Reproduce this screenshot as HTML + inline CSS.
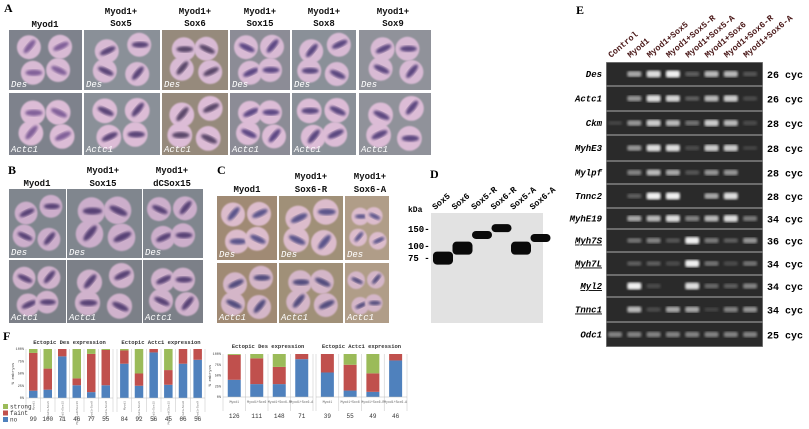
<!DOCTYPE html>
<html><head><meta charset="utf-8">
<style>
body{margin:0;background:#fff;}
svg{display:block;font-family:"Liberation Mono",monospace;}
.lt{font-family:"Liberation Serif",serif;font-weight:bold;font-size:12px;}
.hd{font-weight:bold;font-size:9px;fill:#111;}
</style></head>
<body>
<svg id="fig" width="809" height="429" viewBox="0 0 809 429">
<defs>
<filter id="blur1"><feGaussianBlur stdDeviation="0.9"/></filter>
<filter id="blur2"><feGaussianBlur stdDeviation="1.2"/></filter>
</defs>
<g id="photos"></g>
<g id="gel"></g>
<g id="blot"></g>
<g id="charts"></g>
<text class="lt" x="4" y="12">A</text>
<text class="lt" x="8" y="174">B</text>
<text class="lt" x="217" y="174">C</text>
<text class="lt" x="430" y="178">D</text>
<text class="lt" x="576" y="14">E</text>
<text class="lt" x="3" y="340">F</text>
</svg>
<script>
const NS="http://www.w3.org/2000/svg";
function mk(parent,tag,attrs,txt){const e=document.createElementNS(NS,tag);for(const k in attrs)e.setAttribute(k,attrs[k]);if(txt!==undefined)e.textContent=txt;parent.appendChild(e);return e;}

// ---------- Photos ----------
const P=document.getElementById('photos');
function photo(x,y,w,h,bg,emb,stripe,label,seed){
  const g=mk(P,'g',{});
  
  
  mk(g,'rect',{x:x,y:y,width:w,height:h,fill:bg});
  const r=Math.min(w,h)*0.2;
  const pos=[[0.3,0.32],[0.7,0.28],[0.3,0.68],[0.7,0.7]];
  pos.forEach((p,i)=>{
    const cx=x+w*p[0]+((seed+i)%3-1)*2, cy=y+h*p[1]+((seed*2+i)%3-1)*2;
    mk(g,'circle',{cx:cx,cy:cy,r:r,fill:emb,filter:'url(#blur1)'});
    const ang=-50+((seed+i)%4)*25;
    mk(g,'ellipse',{cx:cx+1,cy:cy,rx:r*0.7,ry:r*0.25,fill:stripe,opacity:0.8,transform:`rotate(${ang} ${cx} ${cy})`,filter:'url(#blur2)'});
  });
  mk(g,'text',{x:x+2,y:y+h-3,fill:'#fff','font-style':'italic','font-size':'9px'},label);
}
const colA=[[9,73],[84,76],[162,66],[230,60],[292,64],[359,72]];
const bgA=['#7e828c','#8a9098','#968a7c','#8c8c96','#8a9098','#90929a'];
const stA=['#6a4a8a','#3a2560','#3a2a50','#3c2a70','#3a2a6a','#3c2a6a'];
colA.forEach((c,i)=>{photo(c[0],30,c[1],60,bgA[i],'#d8bad4',stA[i],'Des',i);photo(c[0],93,c[1],62,bgA[i],'#dcbcd6',stA[i],'Actc1',i+2);});
const colB=[[9,57],[67,75],[143,60]];
colB.forEach((c,i)=>{photo(c[0],189,c[1],69,'#80868e','#ccaecb','#3a2860','Des',i+1);photo(c[0],260,c[1],63,'#7c8088','#d0b2cc','#3a2860','Actc1',i+3);});
const colC=[[217,60],[279,64],[345,44]];
const bgC=['#a08a74','#a09078','#b09d88'];
colC.forEach((c,i)=>{photo(c[0],196,c[1],64,bgC[i],'#dcbccc','#3a3a7a','Des',i);photo(c[0],263,c[1],60,bgC[i],'#d4b6c8','#32306a','Actc1',i+1);});
const hdr=[[45,27,'Myod1'],[121,14,'Myod1+'],[121,26,'Sox5'],[195,14,'Myod1+'],[195,26,'Sox6'],[260,14,'Myod1+'],[260,26,'Sox15'],[324,14,'Myod1+'],[324,26,'Sox8'],[393,14,'Myod1+'],[393,26,'Sox9'],
 [37,186,'Myod1'],[103,173,'Myod1+'],[103,186,'Sox15'],[172,173,'Myod1+'],[172,186,'dCSox15'],
 [247,192,'Myod1'],[311,179,'Myod1+'],[311,192,'Sox6-R'],[370,179,'Myod1+'],[370,192,'Sox6-A']];
hdr.forEach(h=>{const t=mk(P,'text',{x:h[0],y:h[1],'text-anchor':'middle',class:'hd'},h[2]);

});

// ---------- Western blot ----------
const B=document.getElementById('blot');
mk(B,'rect',{x:431,y:213,width:112,height:110,fill:'#e2e2e2'});
const blotLanes=['Sox5','Sox6','Sox5-R','Sox6-R','Sox5-A','Sox6-A'];
const blotKDa=[75,95,130,153,95,121];
const kdaTicks=[150,100,75];
function kY(k){return 246-Math.log(k/100)*42;}
blotLanes.forEach((l,i)=>{
  const cx=443+i*19.5;
  const big=(i<2||i==4);
  const h=big?13:8;
  const b=mk(B,'rect',{x:cx-10,y:kY(blotKDa[i])-h/2,width:20,height:h,rx:4,fill:'#0a0a0a'});
  
  
  const t=mk(B,'text',{x:cx-8,y:210,'font-size':'8.5px','font-weight':'bold',transform:`rotate(-40 ${cx-8} 210)`},l);
  
  
});
mk(B,'text',{x:408,y:212,'font-size':'8px','font-weight':'bold'},'kDa');
kdaTicks.forEach(k=>{const t=mk(B,'text',{x:408,y:kY(k)+3,'font-size':'9px','font-weight':'bold'},(k===75?'75 -':k+'-'));

});

// ---------- Gel ----------
const G=document.getElementById('gel');
const gelLanes=['Control','Myod1','Myod1+Sox5','Myod1+Sox5-R','Myod1+Sox5-A','Myod1+Sox6','Myod1+Sox6-R','Myod1+Sox6-A'];
const gelGenes=['Des','Actc1','Ckm','MyhE3','Mylpf','Tnnc2','MyhE19','Myh7S','Myh7L','Myl2','Tnnc1','Odc1'];
const gelCycles=[26,26,28,28,28,28,34,36,34,34,34,25];
const gelUnder=[false,false,false,false,false,false,false,true,true,true,true,false];
const gelI=[
 [0,.6,.9,1,.2,.7,.7,.15],
 [0,.5,.9,.85,.2,.7,.8,.1],
 [.05,.5,.8,.7,.3,.8,.7,.1],
 [0,.5,.9,.9,.1,.8,.8,.05],
 [0,.4,.7,.6,.15,.5,.5,0],
 [0,.2,1,1,0,.6,.9,0],
 [0,.6,.7,.9,.4,.7,.9,.35],
 [0,.3,.4,.15,1,.35,.2,.5],
 [0,.2,.2,.1,1,.3,.1,.3],
 [0,1,.1,0,.9,.25,.2,.4],
 [0,.7,.1,.6,.6,.05,.4,.5],
 [.4,.4,.4,.4,.4,.4,.4,.4]];
const rowB=[62,86,111,135,161,184,208,229,252,275,297,322,347];
const gx0=606,gx1=763;
const laneX=i=>615+i*19.3;
mk(G,'rect',{x:gx0,y:rowB[0],width:gx1-gx0,height:rowB[12]-rowB[0],fill:'#8a8a8a'});
gelGenes.forEach((gname,r)=>{
  const y0=rowB[r]+0.7,y1=rowB[r+1]-0.7,cy=(y0+y1)/2;
  mk(G,'rect',{x:gx0+0.7,y:y0,width:gx1-gx0-1.4,height:y1-y0,fill:'#2a2a2a'});
  gelI[r].forEach((v,i)=>{
    if(v<=0)return;
    const br=Math.round(60+180*v);
    const b=mk(G,'rect',{x:laneX(i)-7,y:cy-2-v*1.5,width:14,height:4+v*3,rx:2,fill:`rgb(${br},${br},${br})`,filter:'url(#blur2)'});
    
    
  });
  const t=mk(G,'text',{x:602,y:cy+3,'text-anchor':'end','font-size':'9px','font-weight':'bold','font-style':'italic','text-decoration':gelUnder[r]?'underline':'none'},gname);
  
  
  const c=mk(G,'text',{x:767,y:cy+4,'font-size':'10px','font-weight':'bold'},gelCycles[r]+' cyc');
  
  
});
gelLanes.forEach((l,i)=>{
  const x=laneX(i)-4,y=58;
  const t=mk(G,'text',{x:x,y:y,'font-size':'8.5px','font-weight':'bold',fill:'#4a1818',transform:`rotate(-40 ${x} ${y})`},l);
  
  
});

// ---------- Charts ----------
const C=document.getElementById('charts');
const colNo='#4f81bd',colFaint='#c0504d',colStrong='#9bbb59';
const c1Cats=['Myod1','Myod1+Sox5','Myod1+Sox15','Myod1+dCSox15','Myod1+Sox8','Myod1+Sox9'];
const c1No=[15,17,85,26,12,26];
const c1Faint=[77,43,15,14,78,72];
const c1N=[99,100,71,46,77,55];
const c2No=[70,25,93,27,70,78];
const c2Faint=[27,25,7,30,30,22];
const c2N=[84,92,56,45,66,56];
const c3Cats=['Myod1','Myod1+Sox6','Myod1+Sox6-R','Myod1+Sox6-A'];
const c3No=[40,30,30,88];
const c3Faint=[58,60,40,12];
const c3N=[126,111,148,71];
const c4No=[57,15,12,85];
const c4Faint=[43,60,43,15];
const c4N=[39,55,49,46];
const yTicks=[0,25,50,75,100];

function chart(x0,x1,top,bot,cats,no,faint,ns,title,barW,axis,titleY,rotCats,countY){
  const n=cats.length,step=(x1-x0)/n;
  const yS=v=>bot-(v/100)*(bot-top);
  const g=mk(C,'g',{});
  
  
  const tt=mk(g,'text',{x:(x0+x1)/2,y:titleY,'text-anchor':'middle','font-size':'5.5px','font-weight':'bold',fill:'#333'},title);
  
  
  if(axis){
    yTicks.forEach(t=>{const l=mk(g,'text',{x:x0-2,y:yS(t)+1.2,'text-anchor':'end','font-size':'3.5px',fill:'#444'},t+'%');
    
    });
    mk(g,'text',{x:x0-12,y:(top+bot)/2,'text-anchor':'middle','font-size':'4px',fill:'#444',transform:`rotate(-90 ${x0-12} ${(top+bot)/2})`},'% embryos');
  }
  mk(g,'line',{x1:x0,y1:top,x2:x0,y2:bot+14,stroke:'#ccc','stroke-width':0.6});
  for(let i=0;i<n;i++){
    const cx=x0+step*(i+0.5);
    mk(g,'line',{x1:x0+step*(i+1),y1:top,x2:x0+step*(i+1),y2:bot+14,stroke:'#ccc','stroke-width':0.6});
    const b1=mk(g,'rect',{x:cx-barW/2,y:yS(no[i]),width:barW,height:yS(0)-yS(no[i]),fill:colNo});
    
    
    const b2=mk(g,'rect',{x:cx-barW/2,y:yS(no[i]+faint[i]),width:barW,height:yS(no[i])-yS(no[i]+faint[i]),fill:colFaint});
    
    
    const b3=mk(g,'rect',{x:cx-barW/2,y:yS(100),width:barW,height:yS(no[i]+faint[i])-yS(100),fill:colStrong});
    
    
    let cl;
    if(rotCats) cl=mk(g,'text',{x:cx+1,y:bot+3,'font-size':'3px',fill:'#666',transform:`rotate(-90 ${cx+1} ${bot+3})`,'text-anchor':'end'},cats[i]);
    else cl=mk(g,'text',{x:cx,y:bot+6,'font-size':'3.2px',fill:'#666','text-anchor':'middle'},cats[i]);
    
    
    const nl=mk(g,'text',{x:cx,y:countY,'text-anchor':'middle','font-size':'6px',fill:'#333'},ns[i]);
    
    
  }
  mk(g,'line',{x1:x0,y1:bot,x2:x1,y2:bot,stroke:'#bbb','stroke-width':0.6});
}
chart(26,113,349,398,c1Cats,c1No,c1Faint,c1N,'Ectopic Des expression',8.5,1,344,true,421);
chart(117,205,349,398,c1Cats,c2No,c2Faint,c2N,'Ectopic Actc1 expression',8.5,0,344,true,421);
chart(223,313,354,397,c3Cats,c3No,c3Faint,c3N,'Ectopic Des expression',13,1,348,false,418);
chart(316,407,354,397,c3Cats,c4No,c4Faint,c4N,'Ectopic Actc1 expression',13,0,348,false,418);
const leg=[['strong',colStrong],['faint',colFaint],['no',colNo]];
leg.forEach((l,i)=>{
  const y=404+i*6.5;
  const g=mk(C,'g',{});
  
  
  mk(g,'rect',{x:3,y:y,width:5,height:5,fill:l[1]});
  mk(g,'text',{x:10,y:y+4.5,'font-size':'6px',fill:'#333'},l[0]);
});
</script>
</body></html>
